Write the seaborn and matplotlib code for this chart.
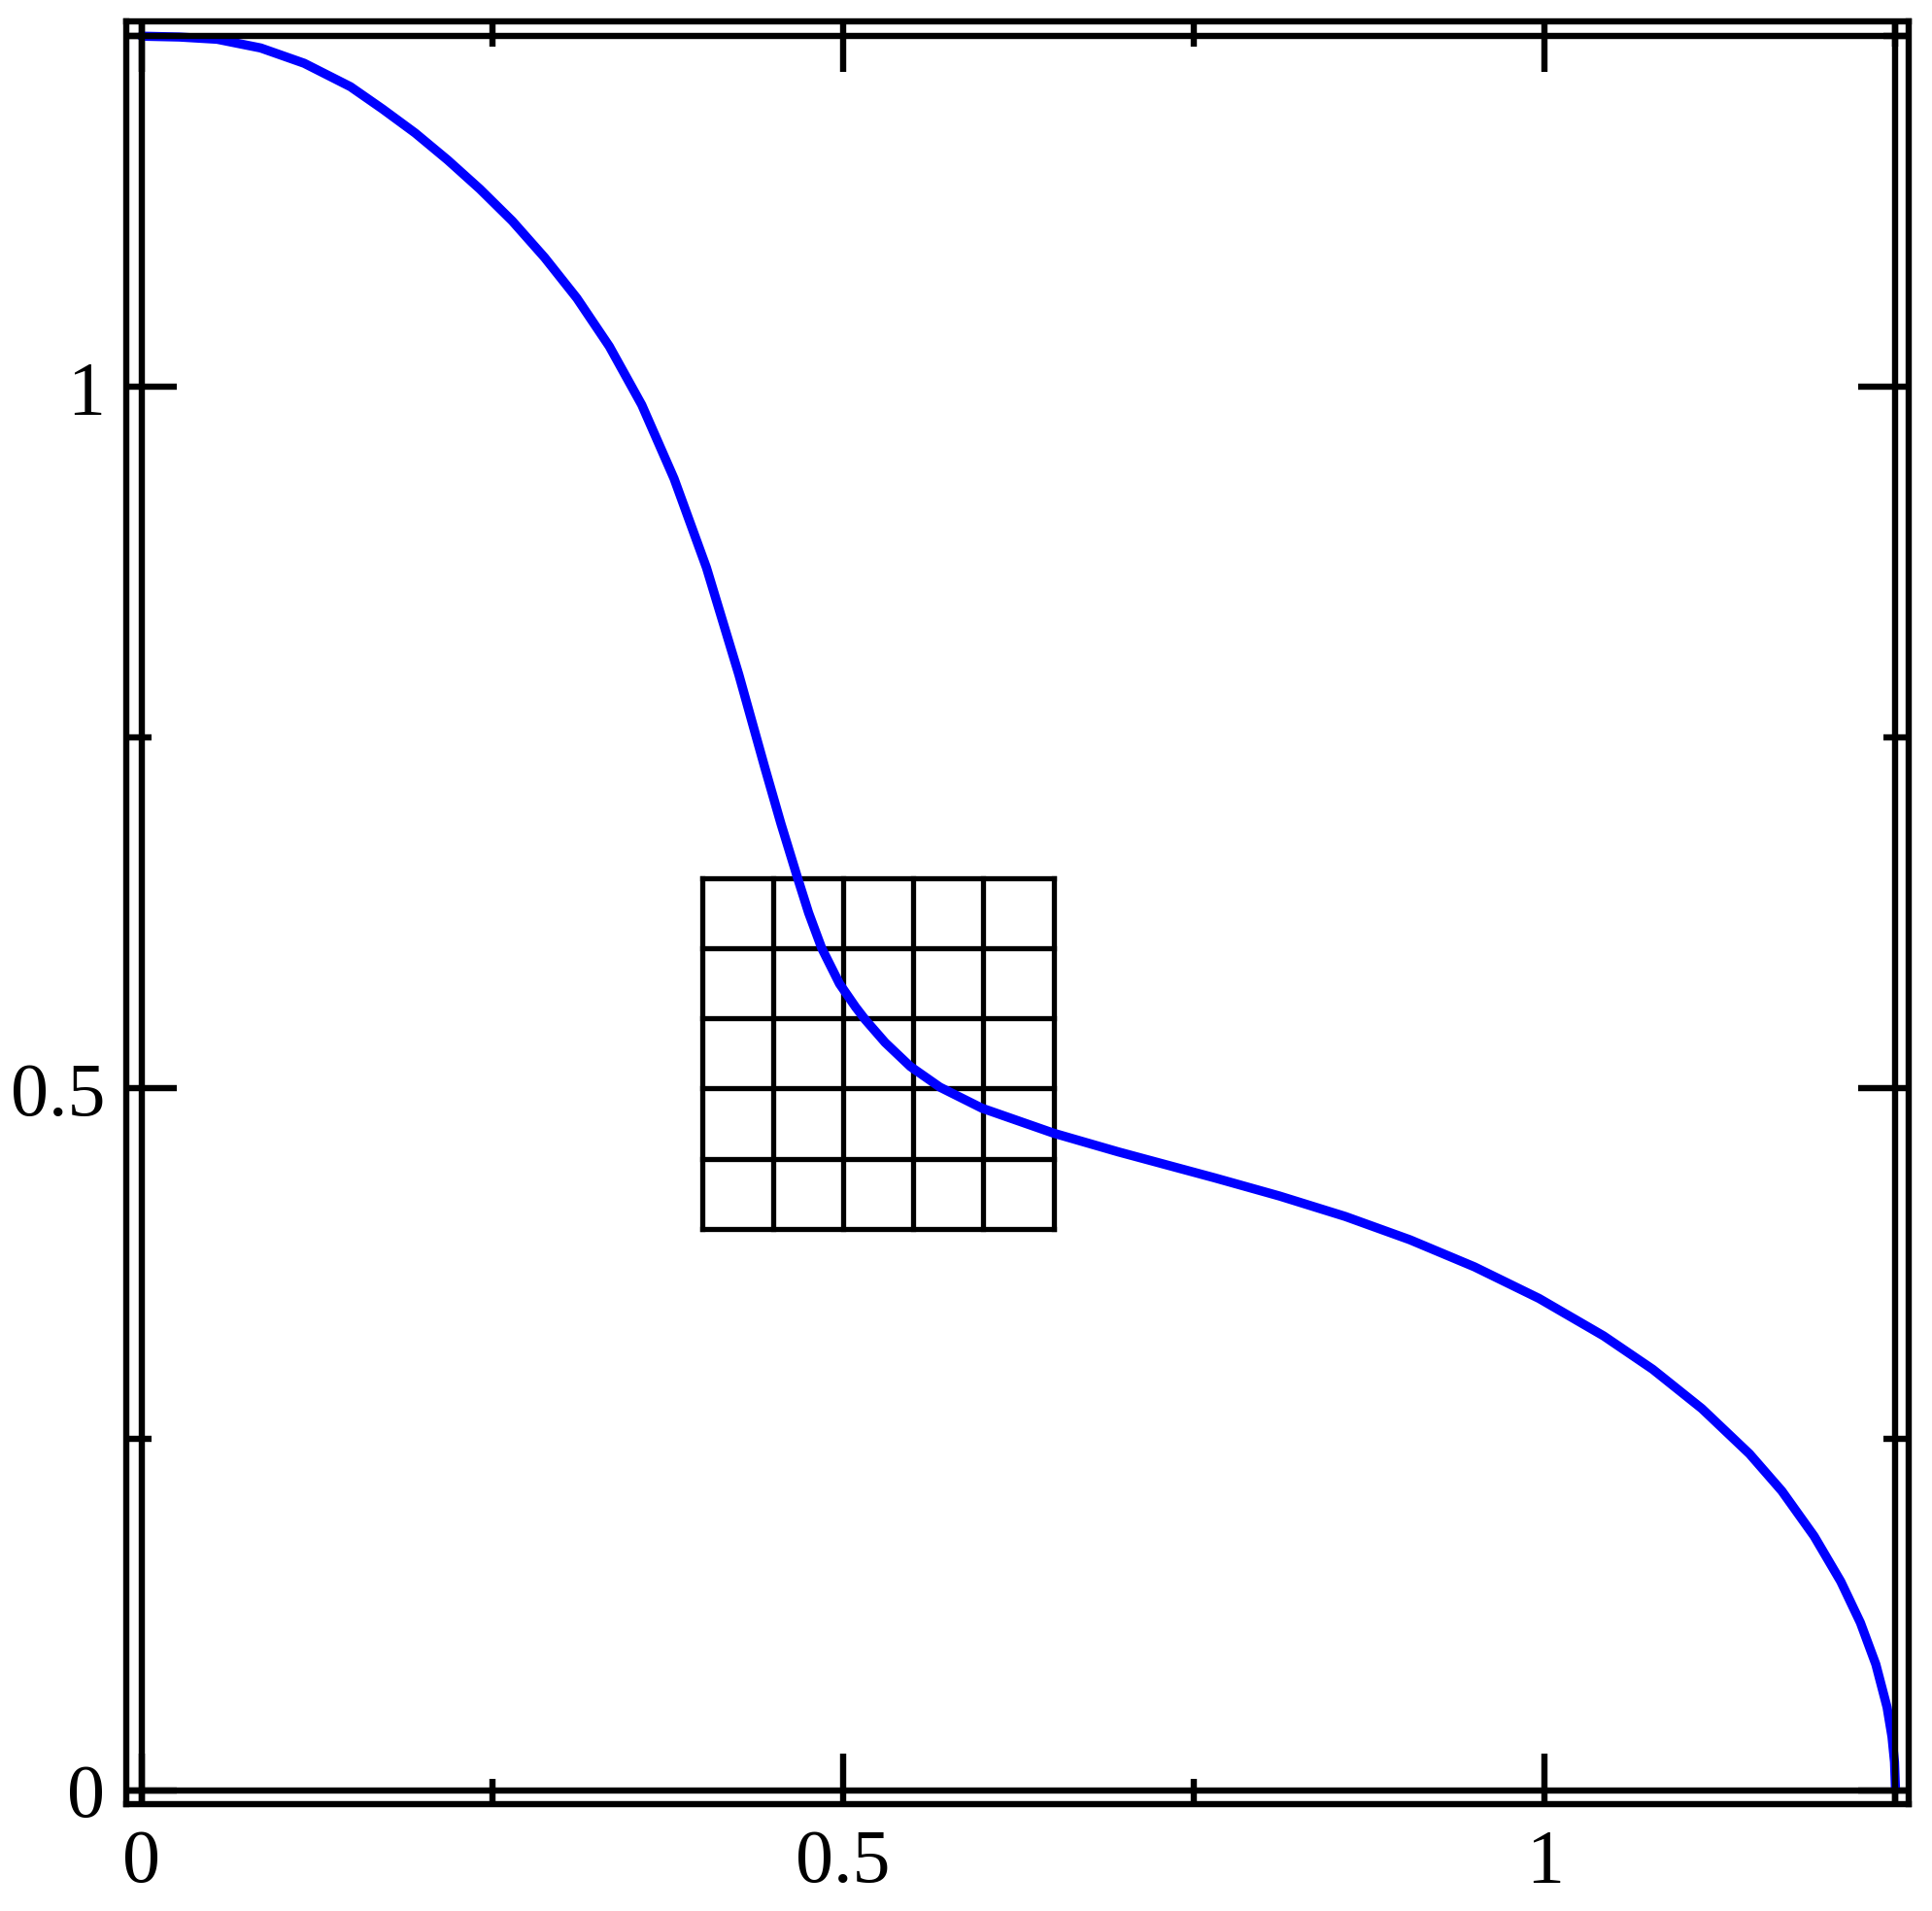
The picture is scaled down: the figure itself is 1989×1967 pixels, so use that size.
import numpy as np
import pandas as pd
import matplotlib
matplotlib.use("Agg")
import matplotlib.pyplot as plt
import seaborn as sns
from matplotlib.ticker import FixedFormatter, FixedLocator

# ---- data ----
curve_x = [0.0, 0.027, 0.054, 0.085, 0.116, 0.149, 0.172, 0.1951, 0.2182, 0.2412,
           0.2643, 0.2874, 0.3104, 0.3335, 0.3566, 0.3796, 0.4027, 0.4257, 0.4442, 0.4557,
           0.4675, 0.4755, 0.4848, 0.4975, 0.509, 0.516, 0.530, 0.548, 0.569, 0.599,
           0.650, 0.696, 0.765, 0.811, 0.858, 0.904, 0.950, 0.996, 1.042, 1.077,
           1.112, 1.146, 1.169, 1.192, 1.211, 1.225, 1.236, 1.244, 1.2475, 1.2493,
           1.250]
curve_y = [1.250, 1.2494, 1.2478, 1.2416, 1.2307, 1.2140, 1.1980, 1.1810, 1.1618, 1.1411,
           1.1183, 1.0922, 1.0632, 1.0289, 0.9872, 0.9347, 0.8712, 0.7952, 0.7290, 0.6890,
           0.6505, 0.6252, 0.6001, 0.5747, 0.5580, 0.5489, 0.5328, 0.5157, 0.5010, 0.4860,
           0.4682, 0.4549, 0.4363, 0.4234, 0.4088, 0.3922, 0.3729, 0.3504, 0.3237, 0.2999,
           0.2719, 0.2396, 0.2132, 0.1810, 0.1487, 0.1193, 0.0896, 0.0590, 0.0380, 0.0200,
           0.0]

grid_x = [0.40, 0.45, 0.50, 0.55, 0.60, 0.65]
grid_y = [0.40, 0.45, 0.50, 0.55, 0.60, 0.65]

frame_x = [0.0, 1.25]
frame_y = [0.0, 1.25]

major_ticks = [0.0, 0.5, 1.0]
major_labels = ["0", "0.5", "1"]
minor_ticks = [0.25, 0.75, 1.25]

x_limits = (-0.0104, 1.2594)
y_limits = (-0.0100, 1.2602)

# ---- style ----
sns.set_theme(style="white")
plt.rcParams['font.family'] = ['Liberation Serif', 'DejaVu Serif']

DPI = 200
fig = plt.figure(figsize=(1990 / DPI, 1967 / DPI), dpi=DPI)
fig.patch.set_facecolor("white")
ax = fig.add_axes([130.5 / 1990, 1 - 1857 / 1967, (1965 - 130.5) / 1990, (1857 - 22.5) / 1967])
ax.set_facecolor("white")

df = pd.DataFrame({"x": curve_x, "y": curve_y})

LW_FRAME = 2.3

# grid square
ax.vlines(grid_x, min(grid_y), max(grid_y), colors="black", linewidth=1.9, zorder=1.5,
          capstyle="projecting")
ax.hlines(grid_y, min(grid_x), max(grid_x), colors="black", linewidth=1.9, zorder=1.5,
          capstyle="projecting")

# curve
sns.lineplot(data=df, x="x", y="y", sort=False, estimator=None, color="#0000FF",
             linewidth=3.4, ax=ax, zorder=2, solid_joinstyle="round")

# inner frame
for fx in frame_x:
    ax.axvline(fx, color="black", linewidth=LW_FRAME, zorder=2.2)
for fy in frame_y:
    ax.axhline(fy, color="black", linewidth=LW_FRAME, zorder=2.2)

ax.set_xlim(*x_limits)
ax.set_ylim(*y_limits)

for sp in ax.spines.values():
    sp.set_visible(True)
    sp.set_color("black")
    sp.set_linewidth(LW_FRAME)
    sp.set_zorder(3)

for axis in (ax.xaxis, ax.yaxis):
    axis.set_major_locator(FixedLocator(major_ticks))
    axis.set_major_formatter(FixedFormatter(major_labels))
    axis.set_minor_locator(FixedLocator(minor_ticks))

ax.tick_params(which="both", direction="in", top=True, right=True, bottom=True, left=True,
               color="black", width=LW_FRAME, zorder=3)
ax.tick_params(which="major", length=18.7, labelsize=28, labelcolor="black")
ax.tick_params(which="minor", length=9.4)
ax.tick_params(axis="x", which="major", pad=9)
ax.tick_params(axis="y", which="major", pad=8)

ax.set_xlabel("")
ax.set_ylabel("")
ax.grid(False)

fig.savefig("out.png", dpi=DPI, facecolor="white")
